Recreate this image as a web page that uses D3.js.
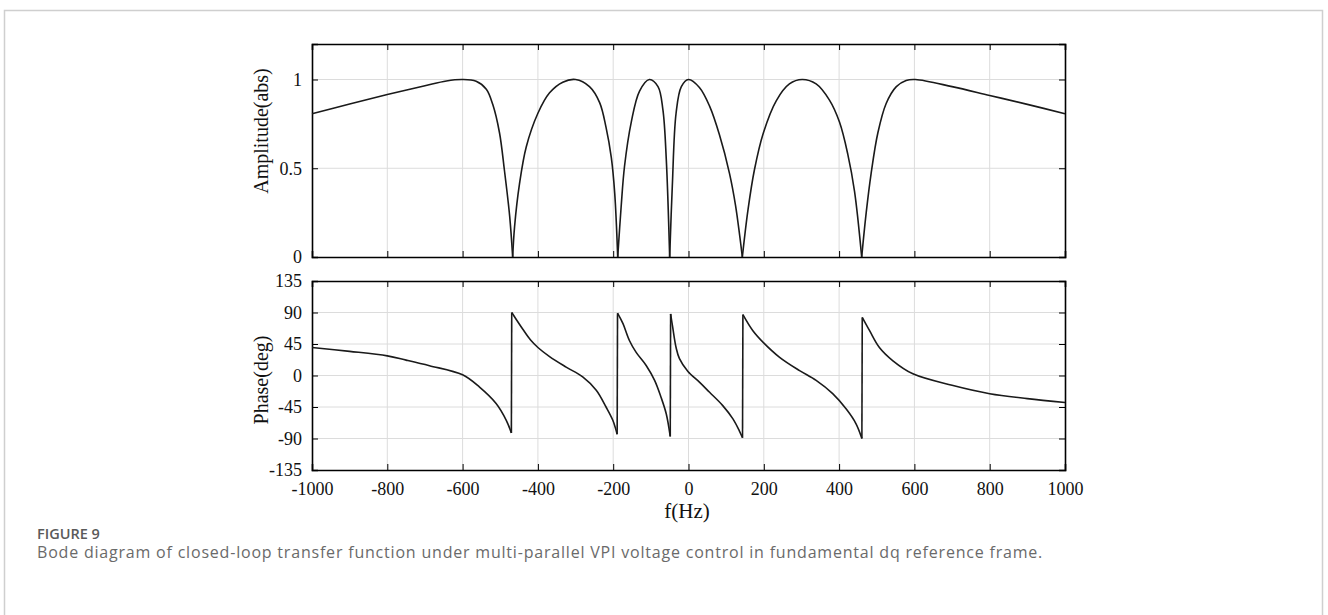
<!DOCTYPE html>
<html>
  <head>
    <meta charset="utf-8" />
    <title>Figure 9</title>
    <script src="https://d3js.org/d3.v7.min.js"></script>
    <style>
      body { margin: 0; background: #fff; }
      .tick-lbl { font-family: "Liberation Serif", "Times New Roman", serif; font-size: 18px; fill: #111; }
      .ax-title { font-family: "Liberation Serif", "Times New Roman", serif; font-size: 20px; fill: #111; }
    </style>
  </head>
  <body>
    <svg width="1328" height="615" id="fig"></svg>

    <script>
      // amplitude |T(jw)|
      var ampFreq = [-1000, -900, -800, -700, -643, -600, -564, -537, -520, -502, -489, -475, -467,
        -462, -449, -431, -400, -369, -334, -300, -263, -236, -219, -205, -196, -188,
        -179, -170, -152, -130, -104, -81, -68, -59, -50,
        -43, -33, -19, 0, 29, 56, 82, 109, 125, 136, 143,
        158, 175, 199, 233, 268, 302, 339, 374, 401, 423, 441, 460,
        472, 485, 503, 525, 552, 578, 603, 700, 800, 900, 1000];
      var ampValue = [0.807, 0.862, 0.915, 0.965, 0.992, 1.0, 0.99, 0.945, 0.86, 0.70, 0.49, 0.23, 0.0,
        0.17, 0.41, 0.62, 0.81, 0.925, 0.985, 1.0, 0.96, 0.87, 0.73, 0.56, 0.36, 0.0,
        0.28, 0.51, 0.76, 0.935, 1.0, 0.96, 0.83, 0.55, 0.0,
        0.40, 0.81, 0.96, 1.0, 0.955, 0.85, 0.69, 0.47, 0.29, 0.12, 0.0,
        0.265, 0.49, 0.70, 0.88, 0.975, 1.0, 0.975, 0.885, 0.76, 0.58, 0.37, 0.0,
        0.25, 0.47, 0.70, 0.865, 0.96, 0.995, 1.0, 0.96, 0.91, 0.86, 0.807];

      // phase in degrees (pairs at a jump sit 1 Hz apart)
      var phaseFreq = [-1000, -900, -800, -750, -688, -600, -555, -511, -484, -470.5,
        -469.5, -440, -420, -400, -369, -325, -281, -245, -219, -201, -189.5,
        -188.5, -174, -157, -139, -112, -90, -73, -59, -48.5,
        -47.5, -42, -33, -24, -2, 29, 56, 91, 118, 135, 143.5,
        144.5, 171, 199, 242, 295, 339, 383, 419, 445, 460.5,
        461.5, 481, 507, 543, 596, 700, 800, 900, 1000];
      var phaseValue = [40, 34.5, 28, 22, 14, 1, -16.6, -40, -64, -82,
        90, 66, 51, 40, 27, 12, -2, -21, -45, -64, -84,
        89, 74, 50, 33, 14, -7, -31, -55, -87,
        88, 69, 40, 24, 6, -9.5, -24, -43, -62, -79, -89,
        87, 64, 47, 26, 7, -7, -26, -48, -69, -90,
        83, 64, 40, 21, 2.4, -14, -26, -33, -38.5];

      var xTicks = [-1000, -800, -600, -400, -200, 0, 200, 400, 600, 800, 1000];
      var ampTicks = [0, 0.5, 1];
      var phaseTicks = [-135, -90, -45, 0, 45, 90, 135];

      var svg = d3.select("#fig");

      // outer frame of the figure panel
      svg.append("rect")
        .attr("x", 4.5).attr("y", 10.5)
        .attr("width", 1318).attr("height", 640)
        .style("fill", "none").style("stroke", "#cfcfcf").style("stroke-width", 1.5);

      var left = 312, right = 1065;
      var x = d3.scaleLinear().domain([-1000, 1000]).range([left, right]);
      var yAmp = d3.scaleLinear().domain([0, 1.2]).range([257, 44]);
      var yPh = d3.scaleLinear().domain([-135, 135]).range([470, 281]);

      function plain(d) { return String(d); }   // hyphen minus like the original

      function panel(y, yTicks, showX) {
        var g = svg.append("g");
        var top = y.range()[1], bot = y.range()[0];

        // grid
        g.selectAll(".vgrid").data(xTicks.slice(1, -1)).enter().append("line")
          .attr("x1", x).attr("x2", x).attr("y1", top).attr("y2", bot)
          .style("stroke", "#dcdcdc").style("stroke-width", 1);
        g.selectAll(".hgrid").data(yTicks.filter(function(t){ return y(t) > top + 1 && y(t) < bot - 1; }))
          .enter().append("line")
          .attr("x1", left).attr("x2", right).attr("y1", y).attr("y2", y)
          .style("stroke", "#dcdcdc").style("stroke-width", 1);

        // axes with inward ticks on all four sides
        var axL = g.append("g").attr("transform", "translate(" + left + ",0)")
          .call(d3.axisLeft(y).tickValues(yTicks).tickSize(-6).tickPadding(10).tickFormat(plain));
        var axR = g.append("g").attr("transform", "translate(" + right + ",0)")
          .call(d3.axisRight(y).tickValues(yTicks).tickSize(-6).tickFormat(""));
        var axB = g.append("g").attr("transform", "translate(0," + bot + ")")
          .call(d3.axisBottom(x).tickValues(xTicks).tickSize(-6).tickPadding(12)
            .tickFormat(showX ? plain : ""));
        var axT = g.append("g").attr("transform", "translate(0," + top + ")")
          .call(d3.axisTop(x).tickValues(xTicks).tickSize(-6).tickFormat(""));

        [axL, axR, axB, axT].forEach(function(a) {
          a.select(".domain").style("stroke", "#000").style("stroke-width", 1.6);
          a.selectAll(".tick line").style("stroke", "#000").style("stroke-width", 1);
          a.selectAll("text").attr("class", "tick-lbl").attr("fill", null);
        });
      }

      panel(yAmp, ampTicks, false);
      panel(yPh, phaseTicks, true);

      // amplitude: one smooth piece per lobe, the notch point shared by both sides
      var ampPieces = [], cur = [];
      ampFreq.forEach(function(f, i) {
        cur.push([f, ampValue[i]]);
        if (ampValue[i] === 0) { ampPieces.push(cur); cur = [[f, 0]]; }
      });
      ampPieces.push(cur);

      // phase: new piece after every upward jump
      var phPieces = [], cp = [];
      phaseFreq.forEach(function(f, i) {
        if (i > 0 && phaseValue[i] - phaseValue[i - 1] > 100) { phPieces.push(cp); cp = []; }
        cp.push([f, phaseValue[i]]);
      });
      phPieces.push(cp);

      var smoothAmp = d3.line()
        .x(function(d){ return x(d[0]); })
        .y(function(d){ return yAmp(d[1]); })
        .curve(d3.curveCatmullRom.alpha(0.5));
      var smoothPh = d3.line()
        .x(function(d){ return x(d[0]); })
        .y(function(d){ return yPh(d[1]); })
        .curve(d3.curveCatmullRom.alpha(0.5));

      svg.selectAll(".amp").data(ampPieces).enter().append("path")
        .attr("d", smoothAmp)
        .style("fill", "none").style("stroke", "#1a1a1a").style("stroke-width", 1.6);

      svg.selectAll(".ph").data(phPieces).enter().append("path")
        .attr("d", smoothPh)
        .style("fill", "none").style("stroke", "#1a1a1a").style("stroke-width", 1.6);

      // vertical jumps between phase pieces
      svg.selectAll(".jump").data(phPieces.slice(1)).enter().append("line")
        .attr("x1", function(d, i){ return x(phPieces[i][phPieces[i].length - 1][0]); })
        .attr("y1", function(d, i){ return yPh(phPieces[i][phPieces[i].length - 1][1]); })
        .attr("x2", function(d){ return x(d[0][0]); })
        .attr("y2", function(d){ return yPh(d[0][1]); })
        .style("stroke", "#1a1a1a").style("stroke-width", 1.6);

      // axis titles
      svg.append("text").attr("class", "ax-title")
        .attr("transform", "translate(268,131) rotate(-90)")
        .attr("text-anchor", "middle").text("Amplitude(abs)");
      svg.append("text").attr("class", "ax-title")
        .attr("transform", "translate(268,380) rotate(-90)")
        .attr("text-anchor", "middle").text("Phase(deg)");
      svg.append("text").attr("class", "ax-title")
        .attr("x", 687).attr("y", 518).attr("text-anchor", "middle")
        .style("font-size", "21px").text("f(Hz)");

      // caption
      svg.append("text").attr("x", 37).attr("y", 539)
        .style("font-family", "'Open Sans', sans-serif").style("font-size", "14.5px")
        .style("font-weight", 600).style("fill", "#5a5a5a").text("FIGURE 9");
      svg.append("text").attr("x", 37).attr("y", 558)
        .style("font-family", "'Open Sans', sans-serif").style("font-size", "16px")
        .style("letter-spacing", "0.8px").style("fill", "#6a6a6a")
        .text("Bode diagram of closed-loop transfer function under multi-parallel VPI voltage control in fundamental dq reference frame.");
    </script>
  </body>
</html>
